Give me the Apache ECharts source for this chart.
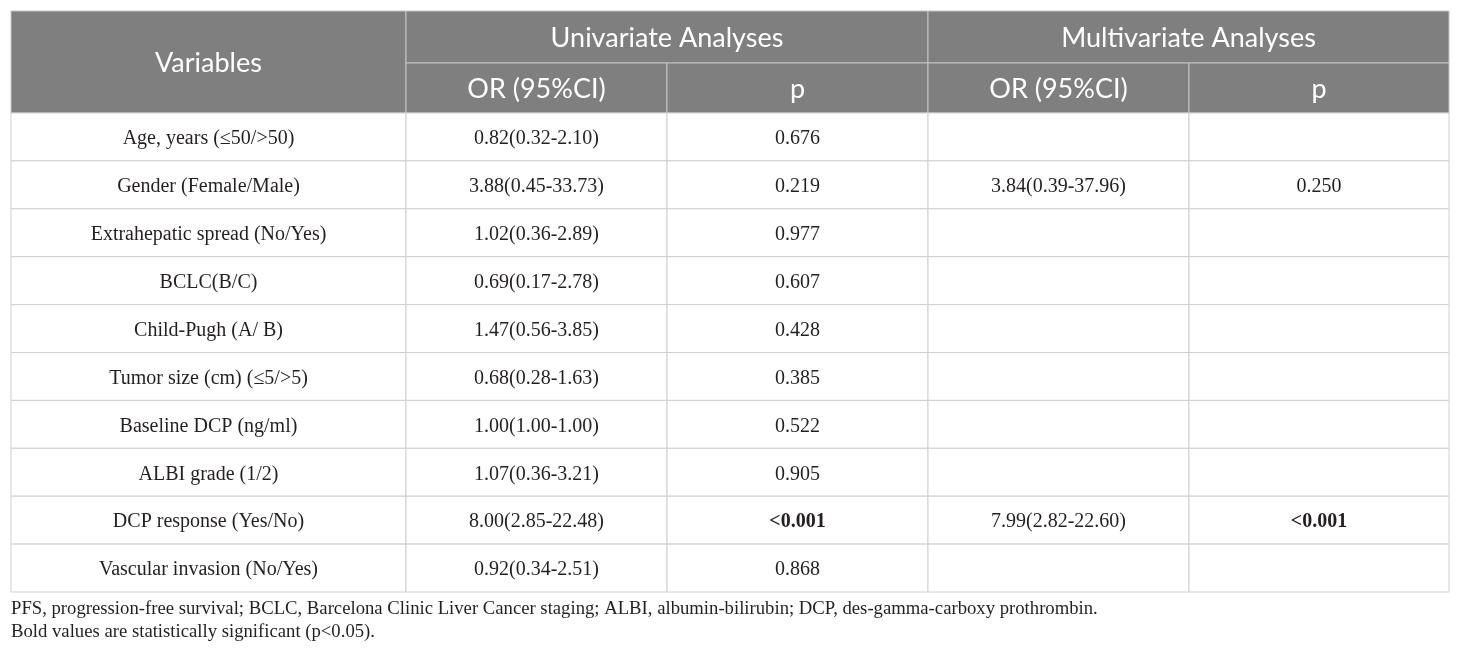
<!DOCTYPE html>
<html lang="en">
<head>
    <meta charset="UTF-8">
    <title>Univariate and multivariate analyses</title>
    <script src="https://cdn.jsdelivr.net/npm/echarts@6/dist/echarts.min.js"></script>
    <style>
        html, body { margin: 0; padding: 0; background: #fff; }
        #myTable { width: 1460px; height: 656px; }
    </style>
</head>
<body>
<div id="myTable"></div>
<script type="text/javascript">
    // table content
    var variables = ['Age, years (\u226450/>50)', 'Gender (Female/Male)', 'Extrahepatic spread (No/Yes)', 'BCLC(B/C)',
        'Child-Pugh (A/ B)', 'Tumor size (cm) (\u22645/>5)', 'Baseline DCP (ng/ml)', 'ALBI grade (1/2)',
        'DCP response (Yes/No)', 'Vascular invasion (No/Yes)'];
    var uniOR = ['0.82(0.32-2.10)', '3.88(0.45-33.73)', '1.02(0.36-2.89)', '0.69(0.17-2.78)', '1.47(0.56-3.85)',
        '0.68(0.28-1.63)', '1.00(1.00-1.00)', '1.07(0.36-3.21)', '8.00(2.85-22.48)', '0.92(0.34-2.51)'];
    var uniP = ['0.676', '0.219', '0.977', '0.607', '0.428', '0.385', '0.522', '0.905', '<0.001', '0.868'];
    var multiOR = ['', '3.84(0.39-37.96)', '', '', '', '', '', '', '7.99(2.82-22.60)', ''];
    var multiP = ['', '0.250', '', '', '', '', '', '', '<0.001', ''];
    var headerTop = ['Variables', 'Univariate Analyses', 'Multivariate Analyses'];
    var headerSub = ['OR (95%CI)', 'p', 'OR (95%CI)', 'p'];
    var footnotes = ['PFS, progression-free survival; BCLC, Barcelona Clinic Liver Cancer staging; ALBI, albumin-bilirubin; DCP, des-gamma-carboxy prothrombin.',
        'Bold values are statistically significant (p<0.05).'];

    // layout (axis units)
    var colEdges = [0, 395, 656, 917, 1178, 1438];
    var headEdges = [0, 52, 102];
    var rowH = 47.9;

    function rowTop(r) {      // r < 0 : header rows (-2, -1)
        return r < 0 ? headEdges[r + 2] : headEdges[2] + r * rowH;
    }
    function rowBottom(r, span) {
        var last = r + span - 1;
        return last < 0 ? headEdges[last + 3] : headEdges[2] + (last + 1) * rowH;
    }
    function isSig(p) {
        return p !== '' && (p.charAt(0) === '<' || parseFloat(p) < 0.05);
    }

    // cells: [col, row, colSpan, rowSpan, text, kind]
    var cells = [];
    cells.push([0, -2, 1, 2, headerTop[0], 'head']);
    cells.push([1, -2, 2, 1, headerTop[1], 'head']);
    cells.push([3, -2, 2, 1, headerTop[2], 'head']);
    headerSub.forEach(function (t, i) { cells.push([i + 1, -1, 1, 1, t, 'head']); });
    variables.forEach(function (v, r) {
        cells.push([0, r, 1, 1, v, 'body']);
        cells.push([1, r, 1, 1, uniOR[r], 'body']);
        cells.push([2, r, 1, 1, uniP[r], isSig(uniP[r]) ? 'bold' : 'body']);
        cells.push([3, r, 1, 1, multiOR[r], 'body']);
        cells.push([4, r, 1, 1, multiP[r], isSig(multiP[r]) ? 'bold' : 'body']);
    });

    function renderCell(params, api) {
        var c = api.value(0), r = api.value(1), cs = api.value(2), rs = api.value(3);
        var item = cells[params.dataIndex];
        var kind = item[5];
        var p0 = api.coord([colEdges[c], rowTop(r)]);
        var p1 = api.coord([colEdges[c + cs], rowBottom(r, rs)]);
        var head = kind === 'head';
        var children = [{
            type: 'rect',
            shape: { x: p0[0], y: p0[1], width: p1[0] - p0[0], height: p1[1] - p0[1] },
            style: { fill: head ? '#7f7f7f' : '#ffffff', stroke: head ? '#c4c4c4' : '#cfcfcf', lineWidth: 1 }
        }];
        if (item[4]) {
            children.push({
                type: 'text',
                x: (p0[0] + p1[0]) / 2,
                y: (p0[1] + p1[1]) / 2 + (head ? 1 : 2),
                style: {
                    text: item[4],
                    textAlign: 'center',
                    textVerticalAlign: 'middle',
                    fill: head ? '#ffffff' : '#231f20',
                    fontFamily: head ? 'Lato' : 'Liberation Serif',
                    fontSize: head ? 27 : 20,
                    fontWeight: kind === 'bold' ? 'bold' : 'normal'
                }
            });
        }
        return { type: 'group', children: children };
    }

    var myEcharts = echarts.init(document.getElementById('myTable'));
    var option = {
        animation: false,
        grid: { left: 11, right: 11, top: 11, bottom: 64 },
        xAxis: { type: 'value', min: 0, max: 1438, show: false },
        yAxis: { type: 'value', min: 0, max: headEdges[2] + variables.length * rowH, inverse: true, show: false },
        graphic: footnotes.map(function (t, i) {
            return {
                type: 'text',
                x: 11,
                y: 609 + i * 23.5,
                style: {
                    text: t, fill: '#231f20', fontFamily: 'Liberation Serif', fontSize: 18.7,
                    textVerticalAlign: 'middle'
                }
            };
        }),
        series: [{
            type: 'custom',
            renderItem: renderCell,
            encode: { x: [0], y: [1] },
            data: cells.map(function (d) { return [d[0], d[1], d[2], d[3]]; }),
            clip: false
        }]
    };
    myEcharts.setOption(option);
</script>
</body>
</html>
